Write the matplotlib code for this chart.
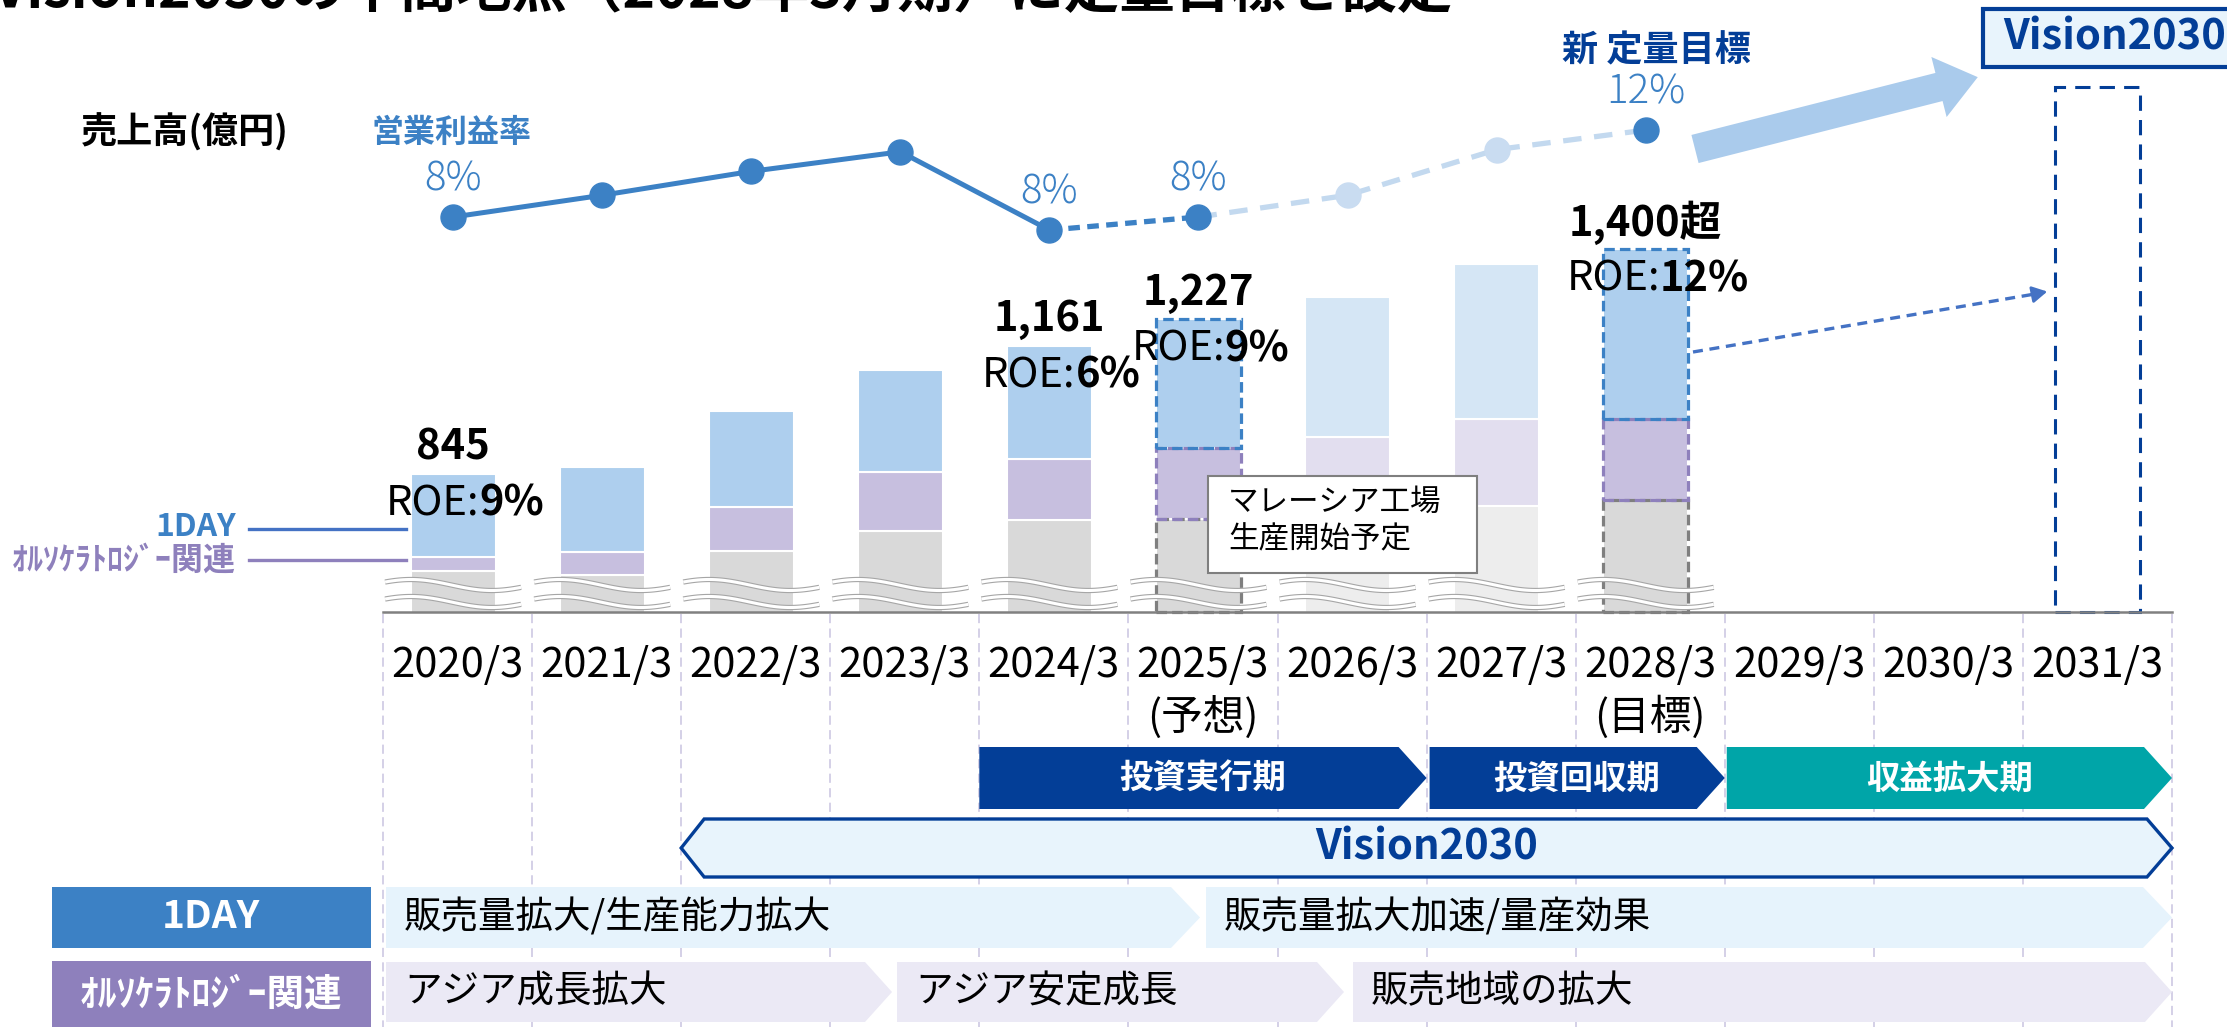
import numpy as np
import matplotlib
matplotlib.use("Agg")
import matplotlib.pyplot as plt
from matplotlib.patches import Polygon, Rectangle, FancyArrow

plt.rcParams['font.family'] = ['Noto Sans CJK JP', 'DejaVu Sans']

# ---------------- data ----------------
periods = ['2020/3', '2021/3', '2022/3', '2023/3', '2024/3', '2025/3',
           '2026/3', '2027/3', '2028/3', '2029/3', '2030/3', '2031/3']
period_notes = ['', '', '', '', '', '(予想)', '', '', '(目標)', '', '', '']

# sales (億円) split into 1DAY / orthokeratology / other
sales_1day = [205, 211, 237, 251, 280, 318, 345, 383, 420]
sales_ortho = [35, 56, 108, 146, 150, 175, 171, 214, 199]
sales_other = [605, 595, 655, 704, 731, 734, 766, 766, 781]
sales_labels = ['845', '', '', '', '1,161', '1,227', '', '', '1,400超']
roe_labels = ['9%', '', '', '', '6%', '9%', '', '', '12%']
vision_bar = 1800  # empty Vision2030 column (2031/3)

op_margin = [8.0, 9.0, 10.1, 11.0, 7.4, 8.0, 9.0, 11.1, 12.0]
margin_labels = ['8%', '', '', '', '8%', '8%', '', '', '12%']

phases = ['投資実行期', '投資回収期', '収益拡大期']
row_1day = ['販売量拡大/生産能力拡大', '販売量拡大加速/量産効果']
row_ortho = ['アジア成長拡大', 'アジア安定成長', '販売地域の拡大']

# ---------------- layout ----------------
W, H = 2227, 1027
X0, X1 = 383, 2172          # pixel span of the 12 columns
BASE_Y = 612                # pixel row of the axis line
CW = (X1 - X0) / len(periods)
BAR_W = 0.57
X_SHIFT = -0.03             # marks sit a touch left of the column centres
VAL_BASE = 504              # sales value sitting on the (broken) axis line
VAL_PER_PX = 316 / 128
M_REF, M_REF_PX, M_PER_PX = 8.0, 217, 0.046

NAVY = '#033E97'
BLUE = '#3C81C5'
PURPLE = '#8E80BC'
TEAL = '#00A5A8'
PALE = '#C3D9EF'


def colx(b):
    return X0 + b * CW


fig = plt.figure(figsize=(W / 100, H / 100), dpi=100)


def px_axes(z):
    a = fig.add_axes([0, 0, 1, 1], zorder=z)
    a.set_xlim(0, W)
    a.set_ylim(H, 0)
    a.axis('off')
    a.patch.set_visible(False)
    return a


back = px_axes(0)
rect = [X0 / W, 1 - BASE_Y / H, (X1 - X0) / W, BASE_Y / H]
ax = fig.add_axes(rect, zorder=1)
ax2 = fig.add_axes(rect, zorder=2)
front = px_axes(3)
for a in (ax, ax2):
    a.patch.set_visible(False)
    a.set_xlim(-0.5, len(periods) - 0.5)
ax.set_ylim(VAL_BASE, VAL_BASE + BASE_Y * VAL_PER_PX)
ax2.set_ylim(M_REF - (BASE_Y - M_REF_PX) * M_PER_PX, M_REF + M_REF_PX * M_PER_PX)
ax2.axis('off')


def to_px(i, v):
    d = ax.transData.transform((i, v))
    return d[0], H - d[1]


# ---- stacked bars ----
n = len(sales_1day)
idx = np.arange(n)
x = idx + X_SHIFT
other = np.array(sales_other)
ortho = np.array(sales_ortho)
day = np.array(sales_1day)
total = other + ortho + day
pale_cols = [6, 7]
dashed_cols = [5, 8]

c_grey = ['#EDEDED' if i in pale_cols else '#D9D9D9' for i in idx]
c_purp = ['#E2DEEF' if i in pale_cols else '#C7BFDF' for i in idx]
c_blue = ['#D5E6F5' if i in pale_cols else '#AECFEE' for i in idx]
ax.bar(x, other, width=BAR_W, color=c_grey, edgecolor='white', lw=1.5)
ax.bar(x, ortho, bottom=other, width=BAR_W, color=c_purp, edgecolor='white', lw=1.5)
ax.bar(x, day, bottom=other + ortho, width=BAR_W, color=c_blue, edgecolor='white', lw=1.5)

dash = (0, (3.3, 1.6))
for i in dashed_cols:
    ax.bar(x[i], other[i] - VAL_BASE, bottom=VAL_BASE, width=BAR_W, fill=False,
           edgecolor='#7F7F7F', ls=dash, lw=2.3, clip_on=False)
    ax.bar(x[i], ortho[i], bottom=other[i], width=BAR_W, fill=False,
           edgecolor=PURPLE, ls=dash, lw=2.3)
    ax.bar(x[i], day[i], bottom=other[i] + ortho[i], width=BAR_W, fill=False,
           edgecolor=BLUE, ls=dash, lw=2.3)
ax.bar(11, vision_bar - VAL_BASE, bottom=VAL_BASE, width=BAR_W, fill=False,
       edgecolor=NAVY, ls=(0, (5, 3)), lw=2.2, clip_on=False)

ax.set_yticks([])
ax.set_xticks(range(len(periods)))
ax.set_xticklabels([p + ('\n' + s if s else '') for p, s in zip(periods, period_notes)],
                   fontsize=30, linespacing=1.28)
ax.tick_params(axis='x', length=0, pad=24)
for s in ('top', 'left', 'right'):
    ax.spines[s].set_visible(False)
ax.spines['bottom'].set_color('#808080')
ax.spines['bottom'].set_linewidth(1.8)

# break marks on the bars
for i in idx:
    cx = to_px(x[i], VAL_BASE)[0]
    xs = np.linspace(cx - 68, cx + 68, 80)
    for y0 in (585, 602):
        ys = y0 - 5.5 * np.sin(2 * np.pi * (xs - xs[0]) / 162 + 0.57)
        front.plot(xs, ys, color='#A6A6A6', lw=3.8, solid_capstyle='butt', zorder=2)
        front.plot(xs, ys, color='white', lw=2.2, solid_capstyle='butt', zorder=2.1)

# value + ROE labels
for i in idx:
    if sales_labels[i]:
        ax.annotate(sales_labels[i], (x[i], total[i]), xytext=(0, 19),
                    textcoords='offset points', ha='center', va='center',
                    fontsize=30, fontweight='bold', annotation_clip=False)

renderer = fig.canvas.get_renderer()
for i in idx:
    if not roe_labels[i]:
        continue
    px, py = to_px(x[i], total[i])
    t1 = front.text(0, 0, 'ROE:', fontsize=30, ha='left', va='center', zorder=6)
    t2 = front.text(0, 0, roe_labels[i], fontsize=30, fontweight='bold',
                    ha='left', va='center', zorder=6)
    w1 = t1.get_window_extent(renderer).width
    w2 = t2.get_window_extent(renderer).width
    left = px + 12 - (w1 + w2) / 2
    t1.set_position((left, py + 30))
    t2.set_position((left + w1, py + 30))

# ---- operating margin line ----
m = np.array(op_margin)
ax2.plot(x[5:], m[5:], color=PALE, lw=3.8, ls=(0, (3.5, 2.4)), zorder=1)
ax2.plot(x[6:8], m[6:8], ls='none', marker='o', ms=18, color='#C9DCF1', zorder=2)
ax2.plot(x[4:6], m[4:6], color=BLUE, lw=3.8, ls=(0, (2.2, 1.4)), zorder=2)
ax2.plot(x[:5], m[:5], color=BLUE, lw=3.6, marker='o', ms=18, zorder=3)
ax2.plot(x[5], m[5], marker='o', ms=18, color=BLUE, zorder=3)
ax2.plot(x[8], m[8], marker='o', ms=18, color=BLUE, zorder=3)
for i in idx:
    if margin_labels[i]:
        ax2.annotate(margin_labels[i], (x[i], m[i]), xytext=(0, 27),
                     textcoords='offset points', ha='center', va='center',
                     fontsize=29, color=BLUE, fontweight='light')
ax2.annotate('新 定量目標', (x[8], m[8]), xytext=(8, 57), textcoords='offset points',
             ha='center', va='center', fontsize=26, color=NAVY, fontweight='bold')

front.text(185, 132, '売上高(億円)', fontsize=26, fontweight='bold',
           ha='center', va='center')
front.text(452, 133, '営業利益率', fontsize=23, fontweight='bold', color=BLUE,
           ha='center', va='center')

# title (cut off at the top of the slide, as on the slide)
front.text(-8, 7, 'Vision2030の中間地点（2028年3月期）に定量目標を設定',
           fontsize=40, fontweight='bold', ha='left', va='baseline')

# series tags on the left
front.plot([249, 406], [529, 529], color='#4472C4', lw=2.4, zorder=4)
front.plot([249, 406], [560, 560], color=PURPLE, lw=2.4, zorder=4)
front.text(236, 527, '1DAY', fontsize=23, fontweight='bold', color=BLUE,
           ha='right', va='center')
front.text(236, 561, 'ｵﾙｿｹﾗﾄﾛｼﾞｰ関連', fontsize=23, fontweight='bold', color=PURPLE,
           ha='right', va='center')

# Malaysia plant note
front.add_patch(Rectangle((1208, 476), 269, 97, fc='white', ec='#7F7F7F', lw=1.5, zorder=5))
front.text(1228, 502, 'マレーシア工場', fontsize=22, ha='left', va='center', zorder=6)
front.text(1228, 540, '生産開始予定', fontsize=22, ha='left', va='center', zorder=6)

# big arrow + Vision2030 box
front.add_patch(FancyArrow(1695, 149, 244, -62, width=29, head_width=62,
                           head_length=40, length_includes_head=False,
                           fc='#AACBEC', ec='none', zorder=4))
front.add_patch(Rectangle((1983, 9), 280, 58, fc='#E8F4FC', ec=NAVY, lw=3, zorder=4))
front.text(2003, 38, 'Vision2030', fontsize=30, fontweight='bold', color=NAVY,
           ha='left', va='center', zorder=5)

# dashed arrow 2028 -> 2031
front.plot([1693, 2035], [352, 294], color='#4472C4', lw=2.4, ls=(0, (3, 2)), zorder=4)
front.annotate('', xy=(2050, 291), xytext=(2030, 295),
               arrowprops=dict(arrowstyle='-|>,head_length=0.9,head_width=0.5',
                               color='#4472C4', lw=2), zorder=4)

# ---- timeline below the axis ----
for b in range(len(periods) + 1):
    back.plot([colx(b), colx(b)], [614, H], color='#C9C3E0', lw=1.1,
              ls=(0, (6, 3.5)), zorder=0)


def chevron(x0, x1, y0, y1, tip, notch=False, **kw):
    ym = (y0 + y1) / 2
    pts = [(x0, y0), (x1 - tip, y0), (x1, ym), (x1 - tip, y1), (x0, y1)]
    if notch:
        pts.append((x0 + tip, ym))
    front.add_patch(Polygon(pts, closed=True, **kw))


phase_spans = [(colx(4), colx(7)), (colx(7) + 3, colx(9)), (colx(9) + 2, colx(12))]
phase_colors = [NAVY, NAVY, TEAL]
for lbl, (a, b), c in zip(phases, phase_spans, phase_colors):
    chevron(a, b, 747, 809, 28, fc=c, ec='none', zorder=2)
    front.text((a + b) / 2, 779, lbl, fontsize=24, fontweight='bold', color='white',
               ha='center', va='center', zorder=3)

# Vision2030 double-ended arrow
va0, va1, vy0, vy1 = colx(2), colx(12), 819, 877
vym = (vy0 + vy1) / 2
front.add_patch(Polygon([(va0, vym), (va0 + 23, vy0), (va1 - 25, vy0), (va1, vym),
                         (va1 - 25, vy1), (va0 + 23, vy1)], closed=True,
                        fc='#E8F4FC', ec=NAVY, lw=2.4, zorder=2))
front.text((va0 + va1) / 2, vym, 'Vision2030', fontsize=30, fontweight='bold',
           color=NAVY, ha='center', va='center', zorder=3)

# business rows
front.add_patch(Rectangle((52, 887), 319, 61, fc=BLUE, ec='none', zorder=2))
front.text(211, 917, '1DAY', fontsize=28, fontweight='bold', color='white',
           ha='center', va='center', zorder=3)
front.add_patch(Rectangle((52, 961), 319, 80, fc=PURPLE, ec='none', zorder=2))
front.text(211, 994, 'ｵﾙｿｹﾗﾄﾛｼﾞｰ関連', fontsize=27, fontweight='bold', color='white',
           ha='center', va='center', zorder=3)

row1_spans = [(386, 1200), (1206, colx(12))]
for lbl, (a, b) in zip(row_1day, row1_spans):
    chevron(a, b, 887, 948, 29, fc='#E6F3FC', ec='none', zorder=2)
    front.text(a + 18, 918, lbl, fontsize=27, ha='left', va='center', zorder=3)

row2_spans = [(386, 892), (897, 1344), (1353, colx(12))]
for lbl, (a, b) in zip(row_ortho, row2_spans):
    chevron(a, b, 962, 1022, 27, fc='#EBE9F5', ec='none', zorder=2)
    front.text(a + 18, 992, lbl, fontsize=27, ha='left', va='center', zorder=3)

fig.savefig('out.png', dpi=100)
